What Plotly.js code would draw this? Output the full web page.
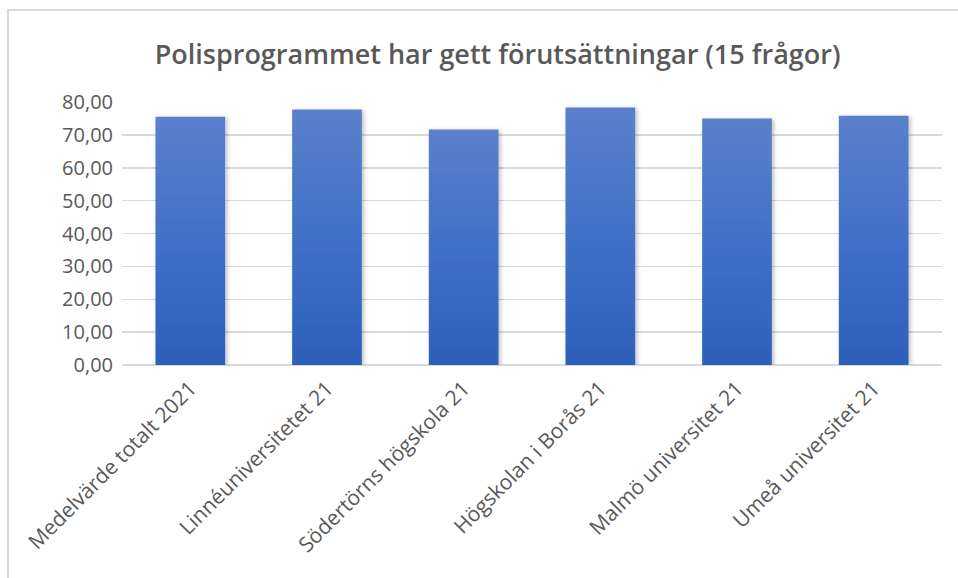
<!DOCTYPE html>
<html>
<head>
<meta charset="utf-8">
<script src="https://cdn.plot.ly/plotly-3.0.1.min.js"></script>
<style>
  html, body { margin: 0; padding: 0; background: #ffffff; overflow: hidden; width: 958px; height: 578px; }
  #chart { position: absolute; left: 7px; top: 9px; width: 960px; height: 580px;
           border-left: 2px solid #d9d9d9; border-top: 2px solid #d9d9d9; box-sizing: border-box; }
</style>
</head>
<body>
<div id="chart"></div>
<script>
const categories = [
  "Medelvärde totalt 2021",
  "Linnéuniversitetet 21",
  "Södertörns högskola 21",
  "Högskolan i Borås 21",
  "Malmö universitet 21",
  "Umeå universitet 21"
];
const values = [75.5, 77.7, 71.6, 78.3, 75.0, 75.8];
const yTickVals = [0, 10, 20, 30, 40, 50, 60, 70, 80];
const yTickText = ["0,00", "10,00", "20,00", "30,00", "40,00", "50,00", "60,00", "70,00", "80,00"];
const chartTitle = "Polisprogrammet har gett förutsättningar (15 frågor)";

const fontFam = "Open Sans, Noto Sans, sans-serif";
const trace = {
  type: "bar",
  x: categories,
  y: values,
  marker: { color: "#4472C4", line: { width: 0 } },
  hoverinfo: "none"
};
const layout = {
  width: 958,
  height: 578,
  margin: { l: 113, r: 25, t: 91, b: 224 },
  paper_bgcolor: "rgba(0,0,0,0)",
  plot_bgcolor: "rgba(0,0,0,0)",
  bargap: 0.49,
  showlegend: false,
  title: {
    text: chartTitle,
    font: { family: fontFam, size: 27, color: "#595959", weight: 600 },
    xref: "container", x: 0.51, xanchor: "center",
    yref: "container", y: 0.925, yanchor: "middle"
  },
  xaxis: {
    tickangle: -45,
    tickfont: { family: fontFam, size: 21, color: "#595959" },
    ticklabelstandoff: 6,
    showline: false,
    ticks: "",
    showgrid: false,
    zeroline: false,
    automargin: false
  },
  yaxis: {
    range: [0, 80],
    tickvals: yTickVals,
    ticktext: yTickText,
    tickfont: { family: fontFam, size: 20, color: "#595959" },
    ticklabelstandoff: 8,
    showgrid: true,
    gridcolor: "#d9d9d9",
    gridwidth: 1.5,
    zeroline: true,
    zerolinecolor: "#d9d9d9",
    zerolinewidth: 1.5,
    showline: false,
    ticks: "",
    ticklen: 0,
    automargin: false
  }
};
Plotly.newPlot("chart", [trace], layout, { staticPlot: true, displayModeBar: false }).then(function () {
  const ns = "http://www.w3.org/2000/svg";
  const svg = document.querySelector("#chart .main-svg");
  let defs = svg.querySelector("defs");
  if (!defs) { defs = document.createElementNS(ns, "defs"); svg.insertBefore(defs, svg.firstChild); }
  const grad = document.createElementNS(ns, "linearGradient");
  grad.setAttribute("id", "barGrad");
  grad.setAttribute("x1", "0"); grad.setAttribute("y1", "0");
  grad.setAttribute("x2", "0"); grad.setAttribute("y2", "1");
  [["0", "#5B80CC"], ["0.5", "#4170C8"], ["1", "#2D5FBA"]].forEach(function (s) {
    const st = document.createElementNS(ns, "stop");
    st.setAttribute("offset", s[0]);
    st.setAttribute("stop-color", s[1]);
    grad.appendChild(st);
  });
  defs.appendChild(grad);
  const filt = document.createElementNS(ns, "filter");
  filt.setAttribute("id", "barShadow");
  filt.setAttribute("x", "-20%"); filt.setAttribute("y", "-5%");
  filt.setAttribute("width", "140%"); filt.setAttribute("height", "110%");
  const ds = document.createElementNS(ns, "feDropShadow");
  ds.setAttribute("dx", "2"); ds.setAttribute("dy", "1");
  ds.setAttribute("stdDeviation", "2");
  ds.setAttribute("flood-color", "#000000");
  ds.setAttribute("flood-opacity", "0.25");
  filt.appendChild(ds);
  defs.appendChild(filt);
  document.querySelectorAll("#chart .barlayer .point path").forEach(function (p) {
    p.style.setProperty("fill", "url(#barGrad)");
    p.setAttribute("filter", "url(#barShadow)");
  });
});
</script>
</body>
</html>
